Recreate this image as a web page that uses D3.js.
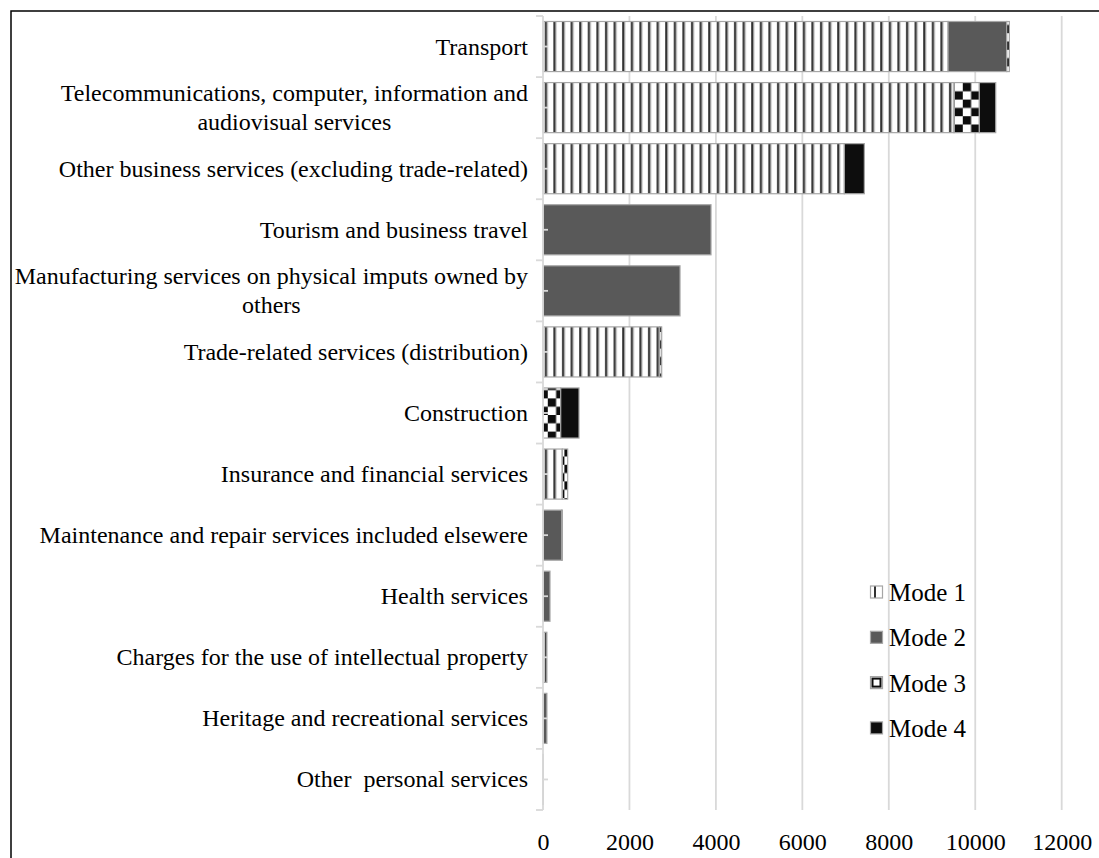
<!DOCTYPE html>
<html>
<head>
<meta charset="utf-8">
<script src="https://cdn.jsdelivr.net/npm/d3@7"></script>
<style>
  html, body { margin: 0; padding: 0; background: #fff; }
  svg { display: block; }
  svg text { font-family: "Liberation Serif", Tinos, "Times New Roman", Times, "DejaVu Serif", serif; }
</style>
</head>
<body>
<div id="chart"></div>
<script>
// services categories, top to bottom
const categories = [
  ["Transport"],
  ["Telecommunications, computer, information and", "audiovisual services"],
  ["Other business services (excluding trade-related)"],
  ["Tourism and business travel"],
  ["Manufacturing services on physical imputs owned by", "others"],
  ["Trade-related services (distribution)"],
  ["Construction"],
  ["Insurance and financial services"],
  ["Maintenance and repair services included elsewere"],
  ["Health services"],
  ["Charges for the use of intellectual property"],
  ["Heritage and recreational services"],
  ["Other  personal services"]
];
const mode1 = [9371, 9509, 6971, 0, 0, 2700, 0, 447, 0, 0, 90, 0, 5];
const mode2 = [1358, 0, 0, 3887, 3170, 0, 0, 0, 433, 162, 0, 90, 0];
const mode3 = [60, 586, 0, 0, 0, 46, 410, 124, 0, 0, 0, 0, 0];
const mode4 = [0, 379, 463, 0, 0, 0, 423, 0, 15, 0, 0, 0, 0];
const seriesNames = ["Mode 1", "Mode 2", "Mode 3", "Mode 4"];
const xTicks = [0, 2000, 4000, 6000, 8000, 10000, 12000];

const W = 1099, H = 858;
const serif = '"Liberation Serif", Tinos, "Times New Roman", Times, "DejaVu Serif", serif';
const svg = d3.select('#chart').append('svg').attr('width', W).attr('height', H)
  .attr('font-family', serif);

// fill patterns
const defs = svg.append('defs');
const stripes = defs.append('pattern').attr('id', 'p-mode1')
  .attr('patternUnits', 'userSpaceOnUse').attr('width', 8.6).attr('height', 10);
stripes.append('rect').attr('width', 8.6).attr('height', 10).attr('fill', '#fff');
stripes.append('rect').attr('x', 3).attr('width', 2).attr('height', 10).attr('fill', '#333');
stripes.append('rect').attr('x', 5).attr('width', 1).attr('height', 10).attr('fill', '#8a8a8a');

const checker = defs.append('pattern').attr('id', 'p-mode3')
  .attr('patternUnits', 'userSpaceOnUse').attr('width', 16.6).attr('height', 16.6);
checker.append('rect').attr('width', 16.6).attr('height', 16.6).attr('fill', '#fff');
checker.append('rect').attr('width', 8.3).attr('height', 8.3).attr('fill', '#0d0d0d');
checker.append('rect').attr('x', 8.3).attr('y', 8.3).attr('width', 8.3).attr('height', 8.3).attr('fill', '#0d0d0d');

// small legend versions of the patterns
const stripesS = defs.append('pattern').attr('id', 'p-mode1s')
  .attr('patternUnits', 'userSpaceOnUse').attr('width', 13).attr('height', 13).attr('x', 870);
stripesS.append('rect').attr('width', 13).attr('height', 13).attr('fill', '#fff');
stripesS.append('rect').attr('x', 5).attr('width', 2).attr('height', 13).attr('fill', '#333');

const fills = ['url(#p-mode1)', '#595959', 'url(#p-mode3)', '#0d0d0d'];
const legendFills = ['url(#p-mode1s)', '#595959', '#fff', '#0d0d0d'];

const x = d3.scaleLinear().domain([0, 12000]).range([543, 1061.7]);
const y = d3.scaleBand().domain(d3.range(categories.length)).range([16, 810])
  .paddingInner(0.18).paddingOuter(0.09);

// frame
svg.append('rect').attr('x', 11).attr('y', 11).attr('width', W).attr('height', H)
  .attr('fill', 'none').attr('stroke', '#000').attr('stroke-width', 1.5);

// gridlines
svg.append('g').selectAll('line').data(xTicks.filter(d => d > 0)).join('line')
  .attr('x1', d => x(d)).attr('x2', d => x(d)).attr('y1', 16).attr('y2', 810)
  .attr('stroke', '#d9d9d9').attr('stroke-width', 1.8);

// stacked bars
const stackData = categories.map((c, i) => ({i, m1: mode1[i], m2: mode2[i], m3: mode3[i], m4: mode4[i]}));
const stack = d3.stack().keys(['m1', 'm2', 'm3', 'm4'])(stackData);
svg.append('g').selectAll('g').data(stack).join('g')
  .attr('fill', (d, k) => fills[k])
  .selectAll('rect').data(d => d.filter(s => s[1] > s[0])).join('rect')
  .attr('x', d => x(d[0])).attr('width', d => x(d[1]) - x(d[0]))
  .attr('y', d => y(d.data.i)).attr('height', y.bandwidth())
  .attr('stroke', '#a6a6a6').attr('stroke-width', 1.2);

// vertical axis with ticks at band edges
const axisG = svg.append('g').attr('stroke', '#d9d9d9').attr('stroke-width', 1.8);
axisG.append('line').attr('x1', 543).attr('x2', 543).attr('y1', 16).attr('y2', 810);
const edges = d3.range(categories.length + 1).map(i => 16 + i * y.step());
axisG.selectAll('.edge').data(edges).join('line').attr('class', 'edge')
  .attr('x1', 536).attr('x2', 543).attr('y1', d => d).attr('y2', d => d);
axisG.selectAll('.mid').data(d3.range(categories.length)).join('line').attr('class', 'mid')
  .attr('x1', 543).attr('x2', 548)
  .attr('y1', i => y(i) + y.bandwidth() / 2).attr('y2', i => y(i) + y.bandwidth() / 2);

// category labels
const labelRight = 528, lineH = 29;
const labels = svg.append('g').attr('font-size', 24).attr('fill', '#000');
categories.forEach((lines, i) => {
  const cy = y(i) + y.bandwidth() / 2;
  const g = labels.append('g');
  const first = g.append('text').attr('text-anchor', 'end').attr('x', labelRight)
    .style('white-space', 'pre')
    .attr('y', cy - (lines.length - 1) * lineH / 2 + 8).text(lines[0]);
  if (lines.length > 1) {
    const w = first.node().getComputedTextLength();
    g.append('text').attr('text-anchor', 'middle').attr('x', labelRight - w / 2)
      .attr('y', cy + lineH / 2 + 8).text(lines[1]);
  }
});

// horizontal axis labels
const xAxis = svg.append('g').attr('transform', 'translate(0,850)')
  .call(d3.axisBottom(x).tickValues(xTicks).tickSize(0).tickPadding(0).tickFormat(d3.format('d')));
xAxis.attr('font-family', serif).attr('font-size', 24);
xAxis.select('.domain').remove();
xAxis.selectAll('text').attr('dy', 0).attr('y', 0).attr('fill', '#000');

// legend
const legend = svg.append('g').attr('transform', 'translate(870,592)');
const items = legend.selectAll('g').data(seriesNames).join('g')
  .attr('transform', (d, k) => `translate(0,${k * 45.3})`);
items.append('rect').attr('x', 0.5).attr('y', -6).attr('width', 12).attr('height', 12)
  .attr('fill', (d, k) => legendFills[k]).attr('stroke', '#a6a6a6').attr('stroke-width', 1.2);
items.filter((d, k) => k === 2).append('rect').attr('x', 2.5).attr('y', -4).attr('width', 8).attr('height', 8)
  .attr('fill', 'none').attr('stroke', '#0d0d0d').attr('stroke-width', 2);
items.append('text').attr('x', 19).attr('y', 9).attr('font-size', 25).attr('fill', '#000').text(d => d);
</script>
</body>
</html>
